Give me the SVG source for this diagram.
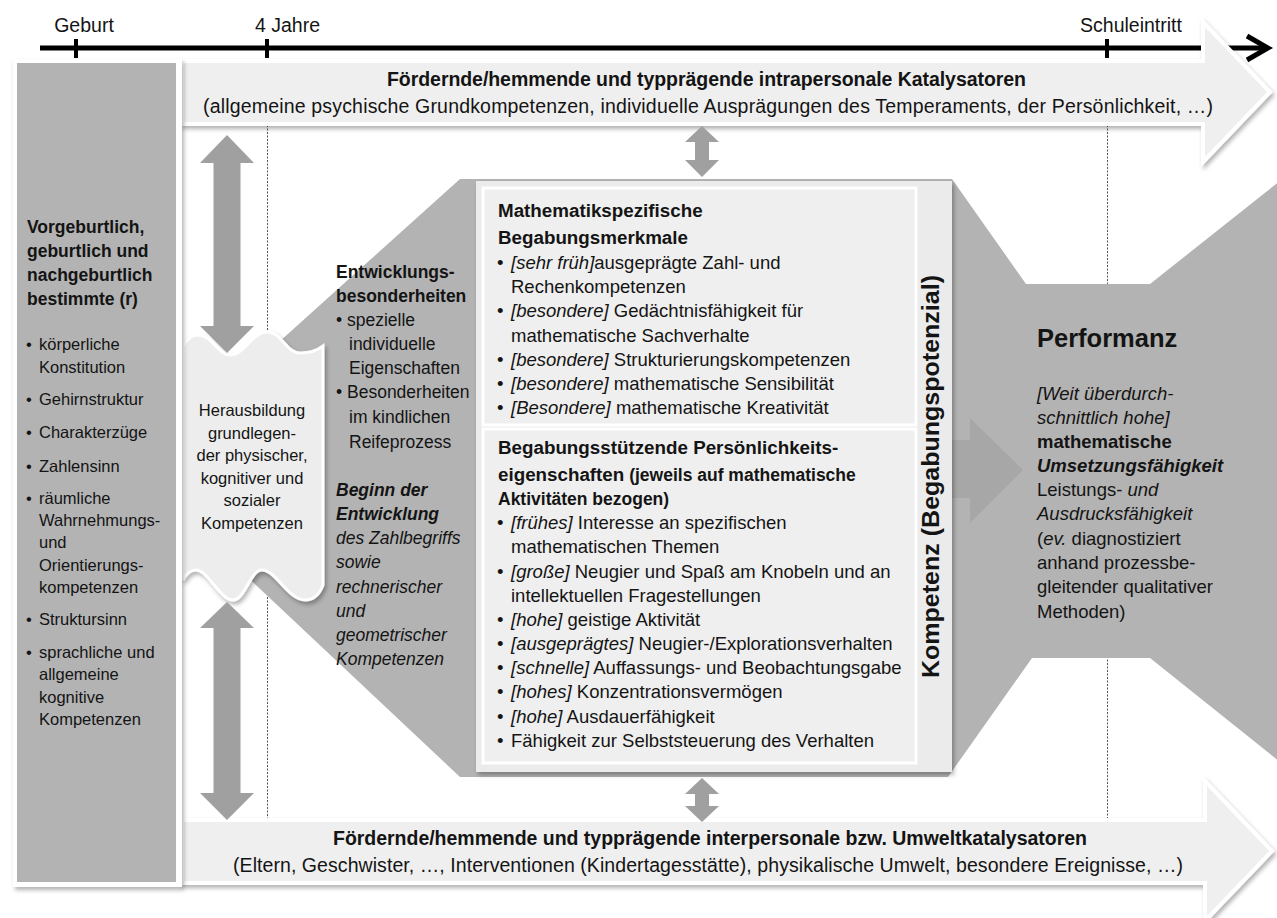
<svg xmlns="http://www.w3.org/2000/svg" width="1277" height="918" viewBox="0 0 1277 918">
<defs>
<style>
.t{font-family:'Liberation Sans',Arial,sans-serif;fill:#141414}
.b{font-weight:bold}
.i{font-style:italic}
.s165{font-size:16.5px}
.s17{font-size:17.5px}
.s185{font-size:18.5px}
.dot{stroke:#555;stroke-width:1;stroke-dasharray:2 1.5;fill:none}
.arr{fill:#a0a0a0}
.band{fill:#efefef;stroke:#fff;stroke-width:4}
</style>
<filter id="sh" x="-5%" y="-5%" width="115%" height="115%">
<feDropShadow dx="2" dy="3" stdDeviation="2" flood-color="#000" flood-opacity="0.3"/>
</filter>
</defs>
<rect width="1277" height="918" fill="#fff"/>

<g id="guides">
<line class="dot" x1="267.5" y1="125" x2="267.5" y2="340"/>
<line class="dot" x1="267.5" y1="590" x2="267.5" y2="822"/>
<line class="dot" x1="1107.5" y1="125" x2="1107.5" y2="286"/>
<line class="dot" x1="1107.5" y1="656" x2="1107.5" y2="822"/>
</g>

<g id="gray-shape">
<path d="M460,179 L952,179 L1026,284 L1150,284 L1290,173 L1290,770 L1150,658 L1032,658 L948,777 L460,777 L240,570 L240,377 Z" fill="#b3b3b3"/>
<path d="M930,440 L970,440 L970,418 L1023,470 L970,523 L970,498 L930,498 Z" fill="#a7a7a7"/>
</g>

<g id="performanz">
<text class="t b" x="1037" y="347" font-size="25.5">Performanz</text>
<g class="t s185">
<text x="1037" y="400" class="i">[Weit überdurch-</text>
<text x="1037" y="424" class="i">schnittlich hohe]</text>
<text x="1037" y="448" class="b">mathematische</text>
<text x="1037" y="472" class="b i">Umsetzungsfähigkeit</text>
<text x="1037" y="496">Leistungs- <tspan class="i">und</tspan></text>
<text x="1037" y="520" class="i">Ausdrucksfähigkeit</text>
<text x="1037" y="545">(<tspan class="i">ev.</tspan> diagnostiziert</text>
<text x="1037" y="569">anhand prozessbe-</text>
<text x="1037" y="593">gleitender qualitativer</text>
<text x="1037" y="618">Methoden)</text>
</g>
</g>

<g id="entwicklung" class="t s17">
<text x="336" y="278" class="b">Entwicklungs-</text>
<text x="336" y="302" class="b">besonderheiten</text>
<text x="336" y="326">• spezielle</text>
<text x="349" y="350">individuelle</text>
<text x="349" y="374">Eigenschaften</text>
<text x="336" y="398">• Besonderheiten</text>
<text x="349" y="423">im kindlichen</text>
<text x="349" y="448">Reifeprozess</text>
<text x="336" y="496" class="b i">Beginn der</text>
<text x="336" y="520" class="b i">Entwicklung</text>
<text x="336" y="544" class="i">des Zahlbegriffs</text>
<text x="336" y="568" class="i">sowie</text>
<text x="336" y="593" class="i">rechnerischer</text>
<text x="336" y="617" class="i">und</text>
<text x="336" y="641" class="i">geometrischer</text>
<text x="336" y="665" class="i">Kompetenzen</text>
</g>

<g id="kompetenz">
<rect x="476" y="181" width="476" height="591" fill="#ebebeb" filter="url(#sh)"/>
<rect x="483" y="188" width="433" height="237" fill="#efefef" stroke="#fff" stroke-width="3"/>
<rect x="483" y="429" width="433" height="334" fill="#efefef" stroke="#fff" stroke-width="3"/>
<text class="t b" transform="translate(939,476.5) rotate(-90)" text-anchor="middle" font-size="24.5" textLength="403" lengthAdjust="spacingAndGlyphs">Kompetenz (Begabungspotenzial)</text>
<g class="t">
<text x="498" y="217" class="b" font-size="18.8">Mathematikspezifische</text>
<text x="498" y="244" class="b" font-size="18.8">Begabungsmerkmale</text>
</g>
<g class="t s185">
<text x="497" y="269">•</text><text x="511" y="269"><tspan class="i">[sehr früh]</tspan>ausgeprägte Zahl- und</text>
<text x="511" y="293">Rechenkompetenzen</text>
<text x="497" y="317">•</text><text x="511" y="317"><tspan class="i">[besondere]</tspan> Gedächtnisfähigkeit für</text>
<text x="511" y="342">mathematische Sachverhalte</text>
<text x="497" y="366">•</text><text x="511" y="366"><tspan class="i">[besondere]</tspan> Strukturierungskompetenzen</text>
<text x="497" y="390">•</text><text x="511" y="390"><tspan class="i">[besondere]</tspan> mathematische Sensibilität</text>
<text x="497" y="414">•</text><text x="511" y="414"><tspan class="i">[Besondere]</tspan> mathematische Kreativität</text>
</g>
<g class="t b">
<text x="498" y="454" font-size="18.8">Begabungsstützende Persönlichkeits-</text>
<text x="498" y="481" font-size="18.8">eigenschaften<tspan font-size="17.5"> (jeweils auf mathematische</tspan></text>
<text x="498" y="505" font-size="17.5">Aktivitäten bezogen)</text>
</g>
<g class="t s185">
<text x="497" y="529">•</text><text x="511" y="529"><tspan class="i">[frühes]</tspan> Interesse an spezifischen</text>
<text x="511" y="553">mathematischen Themen</text>
<text x="497" y="578">•</text><text x="511" y="578"><tspan class="i">[große]</tspan> Neugier und Spaß am Knobeln und an</text>
<text x="511" y="602">intellektuellen Fragestellungen</text>
<text x="497" y="626">•</text><text x="511" y="626"><tspan class="i">[hohe]</tspan> geistige Aktivität</text>
<text x="497" y="650">•</text><text x="511" y="650"><tspan class="i">[ausgeprägtes]</tspan> Neugier-/Explorationsverhalten</text>
<text x="497" y="674">•</text><text x="511" y="674"><tspan class="i">[schnelle]</tspan> Auffassungs- und Beobachtungsgabe</text>
<text x="497" y="698">•</text><text x="511" y="698"><tspan class="i">[hohes]</tspan> Konzentrationsvermögen</text>
<text x="497" y="723">•</text><text x="511" y="723"><tspan class="i">[hohe]</tspan> Ausdauerfähigkeit</text>
<text x="497" y="747">•</text><text x="511" y="747">Fähigkeit zur Selbststeuerung des Verhalten</text>
</g>
</g>

<g id="herausbildung">
<path d="M183,347 C186,340 191,335 198,335 C212,335 218,355 230,355 C245,355 252,332 267,332 C282,332 286,353 300,353 C312,353 318,350 323,346 L323,585 C319,596 313,600 305,600 C288,600 276,570 262,570 C250,570 245,600 233,600 C220,600 208,570 196,570 C190,570 186,574 183,580 Z" fill="#ededed" stroke="#fff" stroke-width="3" filter="url(#sh)"/>
<g class="t s165" text-anchor="middle">
<text x="252" y="416">Herausbildung</text>
<text x="252" y="438.5">grundlegen-</text>
<text x="252" y="461">der physischer,</text>
<text x="252" y="483.5">kognitiver und</text>
<text x="252" y="506">sozialer</text>
<text x="252" y="528.5">Kompetenzen</text>
</g>
</g>

<g id="timeline">
<line x1="40" y1="48" x2="1266" y2="48" stroke="#000" stroke-width="5"/>
<polyline points="1247,36 1268,48 1247,60" fill="none" stroke="#000" stroke-width="5"/>
<line x1="76" y1="39" x2="76" y2="58" stroke="#000" stroke-width="4"/>
<line x1="267" y1="39" x2="267" y2="58" stroke="#000" stroke-width="4"/>
<line x1="1107" y1="39" x2="1107" y2="58" stroke="#000" stroke-width="4"/>
<g class="t" font-size="19.5">
<text x="84" y="32" text-anchor="middle">Geburt</text>
<text x="255" y="32">4 Jahre</text>
<text x="1131" y="32" text-anchor="middle">Schuleintritt</text>
</g>
</g>

<g id="intrapersonal">
<path class="band" d="M182,61 L1203,61 L1203,22 L1270,92 L1203,162 L1203,124 L182,124 Z" filter="url(#sh)"/>
<text class="t b" x="706.5" y="86" text-anchor="middle" font-size="19.5" textLength="639">Fördernde/hemmende und typprägende intrapersonale Katalysatoren</text>
<text class="t" x="708" y="113" text-anchor="middle" font-size="19.5" textLength="1010">(allgemeine psychische Grundkompetenzen, individuelle Ausprägungen des Temperaments, der Persönlichkeit, …)</text>
</g>

<g id="interpersonal">
<path class="band" d="M182,820 L1205,820 L1205,781 L1272,851 L1205,921 L1205,883 L182,883 Z" filter="url(#sh)"/>
<text class="t b" x="710" y="845" text-anchor="middle" font-size="19.5" textLength="754">Fördernde/hemmende und typprägende interpersonale bzw. Umweltkatalysatoren</text>
<text class="t" x="708" y="872" text-anchor="middle" font-size="19.5" textLength="950">(Eltern, Geschwister, …, Interventionen (Kindertagesstätte), physikalische Umwelt, besondere Ereignisse, …)</text>
</g>

<g id="vorgeburtlich">
<rect x="13" y="59" width="169" height="828" fill="#fff" filter="url(#sh)"/>
<rect x="17" y="63" width="159" height="819" fill="#b3b3b3"/>
<g class="t b" font-size="17.5">
<text x="27" y="233">Vorgeburtlich,</text>
<text x="27" y="257">geburtlich und</text>
<text x="27" y="281">nachgeburtlich</text>
<text x="27" y="305">bestimmte (r)</text>
</g>
<g class="t s165">
<text x="26" y="350">•</text><text x="39" y="350">körperliche</text>
<text x="39" y="373">Konstitution</text>
<text x="26" y="405">•</text><text x="39" y="405">Gehirnstruktur</text>
<text x="26" y="438">•</text><text x="39" y="438">Charakterzüge</text>
<text x="26" y="472">•</text><text x="39" y="472">Zahlensinn</text>
<text x="26" y="504">•</text><text x="39" y="504">räumliche</text>
<text x="39" y="526">Wahrnehmungs-</text>
<text x="39" y="548">und</text>
<text x="39" y="571">Orientierungs-</text>
<text x="39" y="593">kompetenzen</text>
<text x="26" y="625">•</text><text x="39" y="625">Struktursinn</text>
<text x="26" y="658">•</text><text x="39" y="658">sprachliche und</text>
<text x="39" y="680">allgemeine</text>
<text x="39" y="703">kognitive</text>
<text x="39" y="725">Kompetenzen</text>
</g>
</g>

<g id="connectors">
<path class="arr" d="M227,135 L254,163 L240.5,163 L240.5,326 L254,326 L227,353 L200,326 L213.5,326 L213.5,163 L200,163 Z"/>
<path class="arr" d="M227,602 L254,628 L240.5,628 L240.5,793 L254,793 L227,820 L200,793 L213.5,793 L213.5,628 L200,628 Z"/>
<path class="arr" d="M702,126 L719,142 L709,142 L709,160 L719,160 L702,177 L685,160 L695,160 L695,142 L685,142 Z"/>
<path class="arr" d="M702,778 L719,794 L709,794 L709,806 L719,806 L702,822 L685,806 L695,806 L695,794 L685,794 Z"/>
</g>
</svg>
